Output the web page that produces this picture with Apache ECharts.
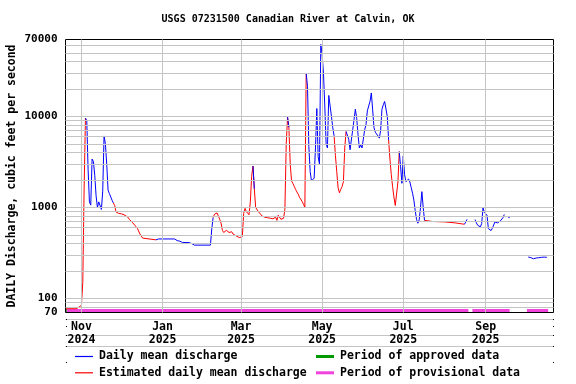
<!DOCTYPE html>
<html><head><meta charset="utf-8">
<script src="https://cdn.jsdelivr.net/npm/echarts@6/dist/echarts.min.js"></script>
<style>html,body{margin:0;padding:0;background:#fff}#c{width:576px;height:384px}</style>
</head><body><div id="c"></div>
<script>
const titleText = 'USGS 07231500 Canadian River at Calvin, OK';
const yAxisTitle = 'DAILY Discharge, cubic feet per second';
const blueName = 'Daily mean discharge';
const redName = 'Estimated daily mean discharge';
const approvedName = 'Period of approved data';
const provisionalName = 'Period of provisional data';

// daily mean discharge, cfs (null = no data)
const dailyMeanFlow = [
  ['2024-10-20',77],['2024-10-28',77],['2024-10-30',80],
  ['2024-11-01',84],['2024-11-02',150],['2024-11-03',1600],['2024-11-04',9600],['2024-11-05',9000],['2024-11-06',2600],
  ['2024-11-07',1150],['2024-11-08',1060],['2024-11-09',3400],['2024-11-10',3190],['2024-11-11',2250],['2024-11-12',1340],
  ['2024-11-13',1000],['2024-11-14',1150],['2024-11-15',1100],['2024-11-16',950],['2024-11-17',1510],['2024-11-18',6100],
  ['2024-11-19',5000],['2024-11-20',3000],['2024-11-21',1550],['2024-11-22',1420],['2024-11-23',1400],['2024-11-24',1200],
  ['2024-11-25',1120],['2024-11-26',1050],['2024-11-27',890],['2024-11-29',860],
  ['2024-12-01',850],['2024-12-03',830],['2024-12-04',810],['2024-12-06',780],['2024-12-07',740],['2024-12-09',690],
  ['2024-12-11',640],['2024-12-13',590],['2024-12-15',510],['2024-12-17',460],['2024-12-18',440],['2024-12-27',440],['2024-12-29',450],
  ['2025-01-10',450],['2025-01-12',432],['2025-01-14',425],['2025-01-16',412],['2025-01-21',410],['2025-01-23',400],['2025-01-25',385],
  ['2025-02-06',385],['2025-02-07',580],['2025-02-08',770],['2025-02-09',840],['2025-02-10',820],['2025-02-11',870],
  ['2025-02-12',800],['2025-02-13',740],['2025-02-14',670],['2025-02-15',560],['2025-02-16',530],['2025-02-17',540],
  ['2025-02-18',560],['2025-02-19',540],['2025-02-20',530],['2025-02-21',540],['2025-02-22',540],['2025-02-23',510],
  ['2025-02-24',505],['2025-02-26',480],['2025-02-28',465],
  ['2025-03-01',465],['2025-03-02',480],['2025-03-03',860],['2025-03-04',975],['2025-03-05',900],['2025-03-06',860],
  ['2025-03-07',830],['2025-03-08',1150],['2025-03-09',2200],['2025-03-10',2850],['2025-03-11',1600],['2025-03-12',1000],
  ['2025-03-14',900],['2025-03-15',860],['2025-03-17',800],['2025-03-19',780],['2025-03-21',770],['2025-03-23',760],
  ['2025-03-25',750],['2025-03-26',745],['2025-03-27',780],['2025-03-28',720],['2025-03-29',820],['2025-03-30',780],['2025-03-31',740],
  ['2025-04-01',710],['2025-04-02',760],['2025-04-03',950],['2025-04-04',5000],['2025-04-05',9800],['2025-04-06',7600],
  ['2025-04-07',3000],['2025-04-08',1950],['2025-04-09',1840],['2025-04-10',1700],['2025-04-11',1580],['2025-04-12',1480],
  ['2025-04-13',1400],['2025-04-14',1290],['2025-04-15',1230],['2025-04-16',1160],['2025-04-17',1080],['2025-04-18',1000],
  ['2025-04-19',30000],['2025-04-20',21400],['2025-04-21',4670],['2025-04-22',2470],['2025-04-23',1950],['2025-04-24',1880],
  ['2025-04-25',2100],['2025-04-26',4500],['2025-04-27',12200],['2025-04-28',3620],['2025-04-29',2980],['2025-04-30',61700],
  ['2025-05-01',48000],['2025-05-02',30000],['2025-05-03',13000],['2025-05-04',5000],['2025-05-05',4500],['2025-05-06',17000],
  ['2025-05-07',17000],['2025-05-08',10000],['2025-05-09',7500],['2025-05-10',6120],['2025-05-11',3700],['2025-05-12',2470],
  ['2025-05-13',1650],['2025-05-14',1450],['2025-05-15',1580],['2025-05-16',1690],['2025-05-17',1920],['2025-05-18',4500],
  ['2025-05-19',6830],['2025-05-20',6950],['2025-05-21',5600],['2025-05-22',4300],['2025-05-23',4200],['2025-05-24',7130],
  ['2025-05-25',9200],['2025-05-26',12000],['2025-05-27',9500],['2025-05-28',6280],['2025-05-29',4500],['2025-05-30',4870],['2025-05-31',4500],
  ['2025-06-01',4700],['2025-06-02',7130],['2025-06-03',8100],['2025-06-04',11500],['2025-06-05',12000],['2025-06-06',14600],
  ['2025-06-07',18100],['2025-06-08',11800],['2025-06-09',7500],['2025-06-10',6700],['2025-06-11',7000],['2025-06-12',6100],
  ['2025-06-13',5770],['2025-06-14',7000],['2025-06-15',12000],['2025-06-16',13400],['2025-06-17',14600],['2025-06-18',15000],
  ['2025-06-19',10000],['2025-06-20',5500],['2025-06-21',3400],['2025-06-22',2300],['2025-06-23',1690],['2025-06-24',1300],
  ['2025-06-25',1050],['2025-06-26',1000],['2025-06-27',1900],['2025-06-28',4110],['2025-06-29',2800],['2025-06-30',1840],
  ['2025-07-01',3680],['2025-07-02',2300],['2025-07-03',1920],['2025-07-04',1840],['2025-07-05',2050],['2025-07-06',1900],
  ['2025-07-07',1650],['2025-07-08',1430],['2025-07-09',1200],['2025-07-10',920],['2025-07-11',740],['2025-07-12',670],
  ['2025-07-13',730],['2025-07-14',1000],['2025-07-15',1490],['2025-07-16',1000],['2025-07-17',720],['2025-07-18',705],['2025-07-23',700],
  ['2025-08-01',693],['2025-08-02',676],['2025-08-09',676],['2025-08-10',653],['2025-08-16',653],['2025-08-17',690],['2025-08-18',740],
  ['2025-08-21',null],
  ['2025-08-24',736],['2025-08-25',676],['2025-08-26',637],['2025-08-27',611],['2025-08-28',611],['2025-08-29',665],
  ['2025-08-30',990],['2025-08-31',880],
  ['2025-09-01',870],['2025-09-02',822],['2025-09-03',585],['2025-09-04',565],['2025-09-05',556],['2025-09-06',590],
  ['2025-09-07',640],['2025-09-08',693],['2025-09-09',676],['2025-09-10',676],['2025-09-11',690],['2025-09-12',710],
  ['2025-09-13',740],['2025-09-14',770],['2025-09-15',836],['2025-09-16',null],['2025-09-18',773],['2025-09-19',773],
  ['2025-09-25',null],
  ['2025-10-03',285],['2025-10-04',282],['2025-10-05',280],['2025-10-06',273],['2025-10-07',273],['2025-10-08',275],
  ['2025-10-09',278],['2025-10-11',280],['2025-10-13',283],['2025-10-14',290],['2025-10-15',284],['2025-10-17',283]
];

// days whose value is estimated (inclusive ranges)
const estimatedPeriods = [
  ['2024-10-20','2024-11-04'],['2024-11-26','2024-12-27'],['2025-02-09','2025-03-10'],
  ['2025-03-12','2025-04-05'],['2025-04-07','2025-04-19'],['2025-05-11','2025-05-19'],
  ['2025-06-21','2025-06-28'],['2025-07-18','2025-08-16']
];
const approvedPeriods = [['2024-10-20','2024-10-21']];
const provisionalPeriods = [['2024-10-21','2025-08-19'],['2025-08-22','2025-09-19'],['2025-10-02','2025-10-18']];

const xMin = '2024-10-20', xMax = '2025-10-22';
const xTickDates = ['2024-11-01','2025-01-01','2025-03-01','2025-05-01','2025-07-01','2025-09-01'];
const monthNames = ['Jan','Feb','Mar','Apr','May','Jun','Jul','Aug','Sep','Oct','Nov','Dec'];
const yMin = 70, yMax = 70000;
const yTickValues = [70, 100, 1000, 10000, 70000];
const yGridValues = [80,90,100,200,300,400,500,600,700,800,900,1000,2000,3000,4000,5000,6000,7000,8000,9000,10000,20000,30000,40000,50000,60000];
const belowAxisLines = [60, 40, 30];
const belowAxisTicks = [60, 50, 40, 30, 20];

const FONT = 'DejaVu Sans Mono';
const GRAY = '#c4c4c4';

const isEst = d => estimatedPeriods.some(([a, b]) => d >= a && d <= b);
const codes = dailyMeanFlow.map(([d, v]) => v == null ? null : (isEst(d) ? 'E' : 'A'));
const redData = [], blueData = [];
dailyMeanFlow.forEach(([d, v], i) => {
  const c = codes[i], cn = i + 1 < codes.length ? codes[i + 1] : null;
  redData.push([d, (v != null && (c === 'E' || cn === 'E')) ? v : null]);
  blueData.push([d, (v != null && (c === 'A' || cn === 'A')) ? v : null]);
});
const monthLabel = s => { const [y, m] = s.split('-'); return monthNames[+m - 1] + '\n' + y; };

const chart = echarts.init(document.getElementById('c'), null, {renderer: 'canvas'});
const txt = {fontFamily: FONT, fontWeight: 'bold', fontSize: 11.5, color: '#000'};
const option = {
  animation: false,
  backgroundColor: '#fff',
  title: {text: titleText, left: 'center', top: 14.5, padding: 0,
    textStyle: {fontFamily: FONT, fontWeight: 'bold', fontSize: 10, color: '#000'}},
  grid: [
    {left: 65.5, top: 39.5, width: 488, height: 273, outerBoundsMode: 'none', containLabel: false,
      show: true, borderColor: '#000', borderWidth: 1, backgroundColor: 'transparent', z: 5},
    {left: 65.5, top: 309, width: 488, height: 3, outerBoundsMode: 'none', containLabel: false, show: false}
  ],
  xAxis: [
    {type: 'time', gridIndex: 0, min: xMin, max: xMax,
      axisLine: {show: false}, axisTick: {show: false}, splitLine: {show: false}, axisLabel: {show: false}},
    {type: 'time', gridIndex: 1, min: xMin, max: xMax, show: false}
  ],
  yAxis: [
    {type: 'log', logBase: 10, gridIndex: 0, min: yMin, max: yMax,
      name: yAxisTitle, nameLocation: 'middle', nameRotate: 90, nameGap: 47.5, nameMoveOverlap: false,
      nameTextStyle: Object.assign({}, txt),
      axisLine: {show: false}, axisTick: {show: false}, splitLine: {show: false},
      axisLabel: Object.assign({}, txt, {fontSize: 11, customValues: yTickValues, margin: 8, hideOverlap: false,
        formatter: v => String(Math.round(v))})},
    {type: 'value', gridIndex: 1, min: 0, max: 1, show: false}
  ],
  legend: [
    {data: [blueName, redName], orient: 'vertical', left: 75, top: 349.5, padding: 0,
      itemWidth: 18, itemHeight: 1.2, itemGap: 2.3, icon: 'rect', selectedMode: false,
      textStyle: Object.assign({}, txt, {lineHeight: 14, padding: [0, 0, 0, 1]})},
    {data: [approvedName, provisionalName], orient: 'vertical', left: 316, top: 349.5, padding: 0,
      itemWidth: 18, itemHeight: 3, itemGap: 2.3, icon: 'rect', selectedMode: false,
      textStyle: Object.assign({}, txt, {lineHeight: 14, padding: [0, 0, 0, 1]})}
  ],
  series: [
    {name: 'hgrid', type: 'line', xAxisIndex: 0, yAxisIndex: 0, data: [], z: 1, silent: true,
      markLine: {silent: true, symbol: ['none', 'none'], label: {show: false}, animation: false,
        lineStyle: {color: GRAY, width: 1, type: 'solid'}, emphasis: {disabled: true},
        data: yGridValues.map(v => ({yAxis: v}))}},
    {name: 'vgrid', type: 'line', xAxisIndex: 0, yAxisIndex: 0, data: [], z: 1, silent: true,
      markLine: {silent: true, symbol: ['none', 'none'], animation: false,
        label: Object.assign({}, txt, {show: true, position: 'start', distance: 8, lineHeight: 13, formatter: p => monthLabel(p.data.xAxis)}),
        lineStyle: {color: GRAY, width: 1, type: 'solid'}, emphasis: {disabled: true},
        data: xTickDates.map(d => ({xAxis: d}))}},
    {name: redName, type: 'line', xAxisIndex: 0, yAxisIndex: 0, data: redData, color: '#ff0000',
      showSymbol: false, symbol: 'none', connectNulls: false, lineStyle: {width: 1, color: '#ff0000'}, z: 3, silent: true},
    {name: blueName, type: 'line', xAxisIndex: 0, yAxisIndex: 0, data: blueData, color: '#0000ff',
      showSymbol: false, symbol: 'none', connectNulls: false, lineStyle: {width: 1, color: '#0000ff'}, z: 4, silent: true},
    {name: approvedName, type: 'line', xAxisIndex: 1, yAxisIndex: 1, data: [], color: '#009a00', z: 6, silent: true,
      markArea: {silent: true, itemStyle: {color: '#009a00', opacity: 1},
        data: approvedPeriods.map(([a, b]) => [{xAxis: a}, {xAxis: b}])}},
    {name: provisionalName, type: 'line', xAxisIndex: 1, yAxisIndex: 1, data: [], color: '#f044dc', z: 6, silent: true,
      markArea: {silent: true, itemStyle: {color: '#f044dc', opacity: 1},
        data: provisionalPeriods.map(([a, b]) => [{xAxis: a}, {xAxis: b}])}}
  ]
};
chart.setOption(option);

// log-scale gridlines that continue below the plot frame (as in the original)
const x0 = chart.convertToPixel({xAxisIndex: 0}, xMin);
const x1 = chart.convertToPixel({xAxisIndex: 0}, xMax);
const extra = [];
belowAxisLines.forEach(v => {
  const y = Math.round(chart.convertToPixel({yAxisIndex: 0}, v)) + 0.5;
  extra.push({type: 'line', silent: true, z: 0, shape: {x1: x0, y1: y, x2: x1, y2: y}, style: {stroke: GRAY, lineWidth: 1}});
});
belowAxisTicks.forEach(v => {
  const y = Math.round(chart.convertToPixel({yAxisIndex: 0}, v));
  [x0, x1 - 1].forEach(x => extra.push({type: 'rect', silent: true, z: 1, shape: {x: Math.round(x), y: y, width: 1, height: 1}, style: {fill: '#000'}}));
});
chart.setOption({graphic: extra});
</script></body></html>
